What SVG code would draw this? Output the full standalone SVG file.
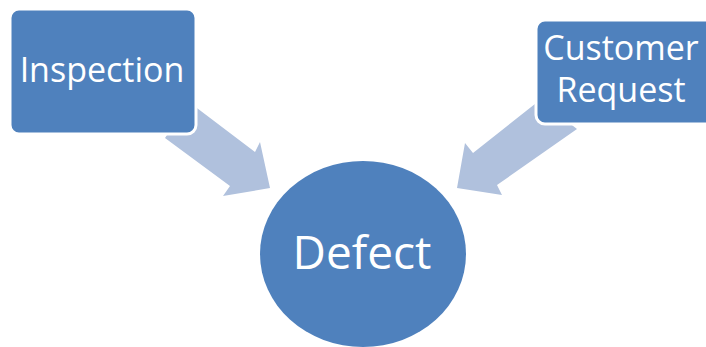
<svg xmlns="http://www.w3.org/2000/svg" width="706" height="347" viewBox="0 0 706 347">
<style>
.node{fill:#4f81bd;stroke:#ffffff;stroke-width:3}
.arrow{fill:#b0c1dd;stroke:none}
.lbl{fill:#ffffff;font-family:"Open Sans","Noto Sans",sans-serif;text-anchor:middle}
</style>
<rect width="706" height="347" fill="#ffffff"/>
<g id="connectors">
<polygon class="arrow" points="165,138 230,186 223,196 270,188 260,142 255,152 189,102"/>
<polygon class="arrow" points="577,129 497,185 502,195 457,188 465,143 473,153 540,100"/>
</g>
<g id="inspection">
<rect class="node" x="10" y="9" width="186" height="125" rx="9"/>
<text class="lbl" x="102" y="82" font-size="34">Inspection</text>
</g>
<g id="customer-request">
<rect class="node" x="536" y="20" width="190" height="104" rx="9"/>
<text class="lbl" x="621" y="60" font-size="34">Customer</text>
<text class="lbl" x="621" y="102" font-size="34">Request</text>
</g>
<g id="defect">
<ellipse cx="363" cy="254" rx="103" ry="93" fill="#4f81bd"/>
<text class="lbl" x="362" y="269" font-size="46">Defect</text>
</g>
</svg>
